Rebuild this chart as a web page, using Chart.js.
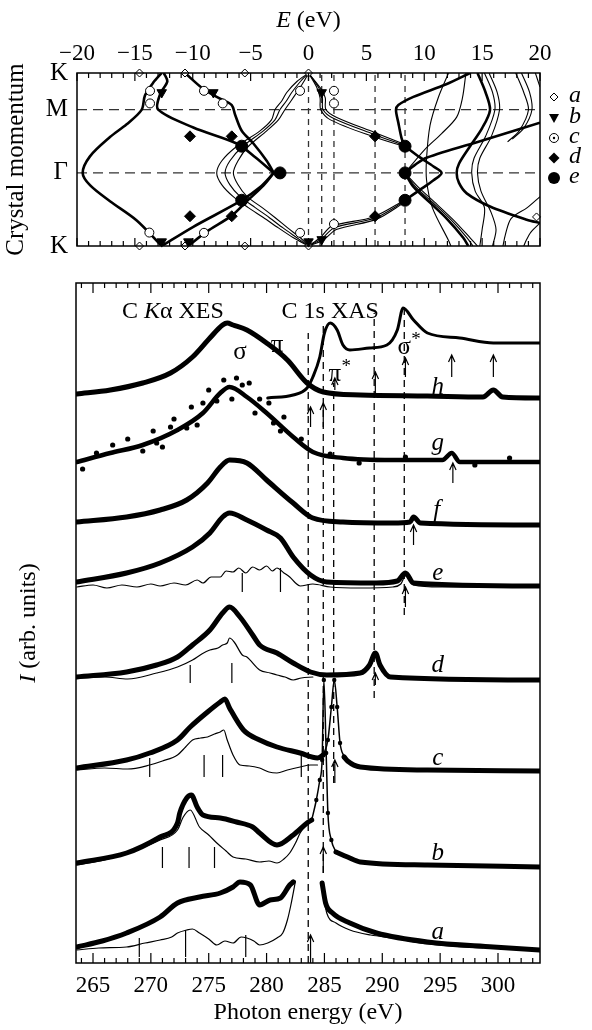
<!DOCTYPE html>
<html>
<head>
	<meta charset="UTF-8">
	<title>Band structure and C K-edge spectra</title>
	<script src="https://cdn.jsdelivr.net/npm/chart.js@4.4.0/dist/chart.umd.min.js"></script>
	<style>
		body { margin: 0; background: #fff; }
		#wrap { position: relative; width: 592px; height: 1030px; }
		canvas { position: absolute; left: 0; }
		#bandChart { top: 0; }
		#specChart { top: 270px; }
	</style>
</head>
<body>
<div id="wrap">
	<canvas id="bandChart" width="592" height="270"></canvas>
	<canvas id="specChart" width="592" height="760"></canvas>
</div>
<script>
// ---------- top panel: bands, E (eV) vs crystal momentum ----------
const energyTicks = [-20, -15, -10, -5, 0, 5, 10, 15, 20];
const kTicks = [0, 1.333, 2.488, 3.155];
const kLabels = ['K', '\u0393', 'M', 'K'];
const kDashed = [1.333, 2.488];
const eDashed = [0, 1.14, 2.2, 5.75, 8.34];

// thick bands
const bandS1 = [[-12.68,0],[-14.84,0.466],[-17.15,0.817],[-18.88,1.11],[-19.51,1.333],[-18.88,1.635],[-17.15,1.986],[-15.71,2.219],[-14.42,2.482],[-14.13,2.745],[-13.41,2.98],[-12.68,3.155]];
const bandS2 = [[-12.5,3.155],[-12.2,3.0],[-12.8,2.78],[-13.0,2.49],[-9.95,2.161],[-6.2,1.869],[-4.6,1.62],[-3.0,1.333]];
const bandS3 = [[-10.67,3.155],[-9.08,2.862],[-7.64,2.687],[-6.63,2.57],[-6.34,2.394],[-5.77,2.103],[-4.76,1.869],[-3.6,1.55],[-3.0,1.333]];
const bandS4 = [[-12.68,0],[-9.95,0.35],[-5.9,0.817],[-4.2,1.07],[-3.0,1.333]];
const bandS5 = [[-10.4,0],[-8.8,0.263],[-6.63,0.554],[-5.33,0.817],[-3.9,1.1],[-3.0,1.333]];
const bandKink = [[8.34,1.82],[9.6,1.62],[10.8,1.45],[11.5,1.333],[10.8,1.2],[9.6,1.02],[8.34,0.834]];
const bandR1 = [[13.95,3.155],[11.9,2.95],[9.06,2.72],[7.76,2.57],[7.56,2.48],[7.76,2.25],[8.05,1.96],[8.34,1.82]];
const bandR2 = [[8.34,1.333],[9.06,1.08],[10.5,0.79],[11.94,0.5],[13.37,0.15],[13.8,0]];
const bandR4 = [[8.34,1.333],[9.2,1.48],[10.2,1.61],[15.1,1.93],[20,2.25]];
const bandR6 = [[14.6,3.155],[15.3,2.8],[15.68,2.48],[15.0,2.15],[13.9,1.8],[13.0,1.5],[12.8,1.333],[13.0,1.15],[13.67,0.96],[15.68,0.72],[18.85,0.48],[20,0.42]];

// thin bands (pi bundle, pi* bundle, upper bands)
const piOuter = [[0,0],[-1.3,0.15],[-2.6,0.33],[-3.9,0.52],[-5.2,0.70],[-6.5,0.90],[-7.5,1.12],[-7.93,1.333],[-7.5,1.55],[-6.24,1.81],[-4.19,2.10],[-3.2,2.3],[-2.89,2.49],[-2.3,2.65],[-1.88,2.80],[-1.0,3.0],[0,3.155]];
const piMid = [[0,0],[-1.0,0.15],[-2.2,0.33],[-3.4,0.52],[-4.6,0.70],[-5.9,0.90],[-6.8,1.12],[-7.21,1.333],[-6.8,1.55],[-5.72,1.81],[-3.9,2.10],[-2.9,2.3],[-2.46,2.49],[-1.9,2.65],[-1.45,2.80],[-0.7,3.0],[0,3.155]];
const piInner = [[0,0],[-0.7,0.15],[-1.8,0.33],[-2.9,0.52],[-4.0,0.70],[-5.3,0.90],[-6.1,1.12],[-6.49,1.333],[-6.1,1.55],[-5.23,1.81],[-3.61,2.10],[-2.6,2.3],[-2.03,2.49],[-1.5,2.65],[-1.02,2.80],[-0.4,3.0],[0,3.155]];
const pstarA = [[0,3.155],[0.7,2.9],[1.0,2.7],[1.05,2.49],[1.9,2.30],[5.5,2.0],[8.34,1.81]];
const pstarB = [[0,3.155],[0.9,2.88],[1.2,2.7],[1.25,2.49],[2.14,2.33],[5.6,2.04],[8.34,1.83]];
const pstarC = [[0,3.155],[1.1,2.86],[1.45,2.7],[1.5,2.49],[2.4,2.35],[5.7,2.07],[8.34,1.85]];
const pstarD = [[0,0],[1.0,0.15],[2.0,0.36],[5.6,0.53],[8.34,0.84]];
const pstarE = [[0,0],[1.14,0.13],[2.2,0.33],[5.75,0.51],[8.34,0.82]];
const pstarF = [[0,0],[1.3,0.11],[2.4,0.30],[5.9,0.49],[8.34,0.80]];
const bandR3 = [[8.34,1.333],[9.3,1.07],[10.8,0.78],[12.3,0.48],[13.7,0.15],[14.2,0]];
const bandR3b = [[8.34,1.333],[9.6,1.05],[11.1,0.76],[12.6,0.46],[14.0,0.14],[14.6,0]];
const bandR5 = [[8.34,1.333],[10.0,1.75],[11.5,2.05],[12.8,2.35],[13.3,2.7],[13.6,3.155]];
const bandR7 = [[15.2,3.155],[15.9,2.8],[16.1,2.48],[15.3,2.0],[14.3,1.6],[14.1,1.333],[14.4,1.0],[15.2,0.7],[15.0,0.3],[14.8,0]];
const bandR8 = [[15.6,3.155],[16.3,2.8],[16.5,2.48],[15.8,2.0],[14.8,1.6],[14.6,1.333],[14.9,1.0],[15.8,0.6],[16.2,0.3],[15.9,0]];
const bandR9 = [[17.9,3.155],[18.6,2.8],[19.0,2.48],[18.2,2.1],[17.2,1.9]];
const bandR10 = [[18.4,3.155],[19.1,2.8],[19.3,2.48],[18.6,2.15],[17.6,1.95]];
const bandR11 = [[12.1,3.155],[11.2,2.7],[10.5,2.2],[10.2,1.6],[10.2,1.2],[10.7,0.7],[12.1,0.1],[12.3,0]];
const bandR12 = [[20,0.9],[18.9,0.7],[17.5,0.5],[17.0,0.2],[16.8,0]];
const bandR13 = [[20,0.42],[19.2,0.25],[18.8,0.1],[18.6,0]];
const bandR14 = [[19.6,3.155],[20,2.9]];

// marked points a..e
const markA = [[-14.6,0],[-10.67,0],[-5.5,0],[0,0],[-14.6,3.155],[-10.67,3.155],[-5.5,3.155],[0,3.155],[19.7,0.53]];
const markB = [[-12.68,2.80],[-8.22,2.80],[1.14,2.80],[-12.68,0.08],[-10.38,0.08],[0,0.08],[1.14,0.12]];
const markC = [[-13.69,2.83],[-13.69,2.60],[-9.03,2.83],[-7.41,2.60],[-0.73,2.83],[2.2,2.83],[2.2,2.60],[-13.75,0.245],[-9.03,0.24],[-0.73,0.24],[2.2,0.4]];
const markD = [[-10.24,2.0],[-6.63,2.0],[-10.24,0.543],[-6.63,0.543],[5.75,2.0],[5.75,0.543]];
const markE = [[-5.77,1.82],[-5.77,0.834],[-2.46,1.333],[8.34,1.82],[8.34,1.333],[8.34,0.834]];
const legendKeys = ['a', 'b', 'c', 'd', 'e'];

// ---------- bottom panel: spectra, photon energy (eV) vs I ----------
const photonTicks = [265, 270, 275, 280, 285, 290, 295, 300];

const hXes = [[263.6,56.9],[266.5,57.3],[269.3,58.0],[271.7,59.0],[273.6,60.6],[275.1,62.5],[276.2,63.8],[276.6,64.0],[277.1,63.8],[278.3,63.3],[280.0,62.0],[281.8,60.3],[283.5,58.0],[284.9,57.1],[288.1,56.8],[293.9,56.7],[298.7,56.6],[299.6,57.3],[300.4,56.6],[303.6,56.5]];
const hXas = [[280.1,56.5],[282.3,56.8],[283.5,57.5],[284.0,58.6],[284.6,60.6],[285.0,63.0],[285.5,64.0],[286.1,63.3],[286.6,61.8],[287.2,61.3],[288.9,61.5],[290.4,61.8],[291.3,63.3],[291.8,65.5],[292.7,64.3],[293.9,63.0],[296.7,62.5],[299.6,62.0],[303.6,62.0]];
const gXes = [[263.6,50.1],[266.5,51.0],[269.3,51.8],[272.3,53.3],[274.5,55.0],[276.0,57.0],[276.8,57.6],[278.3,56.6],[280.0,55.0],[282.3,52.6],[284.0,51.1],[286.6,50.5],[290.9,50.3],[295.2,50.3],[296.0,51.0],[296.7,50.1],[303.6,50.1]];
const gScatter = [[264.1,49.4],[265.3,51.0],[266.7,51.8],[268.0,52.4],[269.3,51.2],[270.2,53.2],[270.5,52.0],[271.0,51.6],[271.7,53.6],[272.0,54.4],[273.1,53.5],[273.5,55.6],[274.0,53.8],[274.5,56.0],[275.0,57.3],[275.7,56.2],[276.3,58.3],[277.0,56.4],[277.4,58.5],[277.9,57.8],[278.5,58.0],[279.0,55.0],[279.4,56.4],[280.2,56.0],[280.6,54.0],[281.2,53.2],[281.5,54.6],[283.0,52.4],[285.5,50.9],[288.0,50.0],[292.0,50.6],[298.0,49.8],[301.0,50.5]];
const fXes = [[263.6,44.1],[267.9,44.6],[270.8,45.3],[273.1,46.3],[274.9,48.0],[276.0,49.6],[276.8,50.3],[278.3,50.0],[280.0,48.3],[282.3,46.0],[284.0,44.5],[286.6,44.1],[290.9,44.0],[292.4,44.1],[292.7,44.6],[293.3,44.0],[303.6,43.8]];
const eXes = [[263.6,38.1],[267.9,39.0],[270.8,40.0],[273.6,41.6],[275.1,43.0],[276.2,44.6],[276.8,45.0],[278.3,44.3],[280.0,43.3],[281.2,42.5],[282.3,40.6],[283.8,38.8],[285.2,38.1],[289.5,38.0],[291.3,38.2],[292.0,39.0],[292.7,38.0],[303.6,37.7]];
const eRef = [[263.6,37.6],[265.0,37.8],[266.2,37.5],[267.5,37.8],[268.8,37.6],[270.0,37.9],[270.8,37.7],[272.0,38.0],[273.0,37.8],[274.0,38.3],[274.5,38.0],[275.2,38.6],[276.0,38.6],[276.5,39.2],[277.1,39.1],[277.6,39.5],[278.2,39.0],[278.8,39.6],[279.4,39.3],[280.0,39.7],[280.5,39.2],[280.9,39.5],[281.5,39.0],[282.0,38.6],[282.5,38.0],[282.9,37.7],[284.0,37.9],[285.5,37.6],[288.1,37.5],[290.9,37.6],[291.6,37.9],[292.0,38.7],[292.7,37.8],[295.0,37.6],[298.7,37.6]];
const dXes = [[263.6,28.6],[267.9,29.1],[270.5,29.8],[272.3,30.6],[273.6,31.8],[275.1,33.3],[276.2,35.0],[276.8,35.6],[277.7,34.6],[278.8,32.8],[279.4,31.8],[280.9,31.0],[282.3,30.0],[283.8,29.1],[285.2,28.8],[288.1,29.0],[288.9,29.8],[289.4,31.0],[289.8,29.8],[290.7,28.6],[303.6,28.3]];
const dRef = [[263.6,28.5],[266.0,28.6],[268.0,28.4],[270.5,29.0],[272.3,29.6],[273.6,30.3],[274.4,30.9],[275.1,31.3],[275.8,31.5],[276.2,31.8],[276.6,32.0],[276.8,32.5],[277.2,32.1],[277.9,30.8],[278.3,30.6],[279.4,29.3],[280.3,29.0],[280.9,28.8],[281.6,28.6],[282.3,28.3],[283.0,28.5],[284.0,28.6]];
const cXes = [[263.6,19.5],[267.9,20.3],[269.9,21.0],[272.3,22.3],[273.4,23.6],[274.9,25.1],[276.0,26.1],[276.4,26.4],[276.8,25.5],[278.0,23.3],[279.4,22.3],[280.9,21.6],[282.9,21.0],[284.4,20.5],[284.9,20.8]];
const cXas = [[284.9,20.8],[285.3,22.3],[285.6,25.6],[285.85,28.3],[286.1,25.6],[286.35,22.0],[286.7,20.6]];
const cXasTail = [[286.7,20.6],[287.0,20.2],[288.1,19.6],[293.9,19.3],[303.6,19.2]];
const cRef = [[263.6,19.3],[266.0,19.5],[268.0,19.4],[269.9,19.8],[271.0,20.2],[272.3,20.8],[273.0,21.6],[273.6,22.3],[274.3,22.5],[274.9,22.6],[275.5,22.9],[276.0,23.1],[276.3,23.3],[276.6,22.3],[277.1,20.8],[277.7,19.8],[278.5,19.7],[279.4,19.5],[280.2,19.1],[280.9,19.0],[281.8,19.3],[282.9,19.6],[283.8,19.8],[284.4,19.8]];
const bXes = [[263.6,10.0],[267.9,11.0],[270.8,12.6],[272.3,14.0],[272.5,15.0],[273.1,16.5],[273.5,16.8],[274.0,15.6],[274.5,14.8],[276.0,14.5],[277.4,14.1],[278.8,13.6],[279.4,13.0],[280.9,11.8],[282.3,12.8],[283.5,14.0],[283.9,14.3]];
const bXas = [[283.9,14.3],[284.3,16.3],[284.6,18.3],[284.8,20.3],[284.95,28.3],[285.15,21.0],[285.3,15.0],[285.6,12.3],[286.0,11.1]];
const bXasTail = [[286.0,11.1],[287.0,10.6],[288.1,10.1],[293.9,9.8],[303.6,9.6]];
const bRef = [[263.6,9.8],[266.0,10.3],[268.0,11.0],[270.8,12.3],[272.3,13.3],[272.8,14.6],[273.4,15.3],[274.2,13.6],[275.0,12.8],[275.7,12.0],[276.5,11.2],[277.1,10.6],[278.2,10.4],[279.4,10.1],[280.2,10.2],[280.9,10.0],[281.5,10.4],[282.0,11.0],[282.5,12.0],[282.9,13.0],[283.4,13.8],[283.8,14.3]];
const aXes = [[263.6,1.6],[265.8,2.2],[267.9,3.0],[270.8,4.6],[272.3,6.0],[274.2,6.6],[276.0,7.0],[277.1,7.6],[277.7,8.1],[278.6,7.8],[279.4,5.8],[280.3,6.3],[281.2,6.5],[282.0,7.8],[282.3,8.1]];
const aXas = [[284.8,8.0],[285.1,6.0],[285.7,5.0],[287.2,4.0],[289.5,3.0],[293.9,2.1],[299.6,1.6],[303.6,1.3]];
const aRef = [[263.6,1.3],[265.5,1.5],[267.9,1.6],[269.5,2.0],[270.8,2.3],[271.8,2.6],[272.3,3.0],[273.1,3.3],[273.6,3.4],[274.2,3.0],[275.0,2.4],[275.7,1.8],[276.4,2.2],[277.1,2.0],[277.8,2.6],[278.3,2.5],[278.9,2.2],[279.4,1.8],[280.1,2.0],[280.9,2.5],[281.4,3.0],[281.8,4.3],[282.1,5.8],[282.5,8.2]];
const aRefXas = [[284.8,7.6],[285.2,5.0],[286.0,4.0],[287.2,3.3],[289.0,2.8],[290.9,2.5],[294.0,1.9],[298.7,1.5]];

// vertical marks under calculated curves: [energy, bottom, top]
const refMarks = [[277.9,37.1,39.0],[281.2,37.1,39.5],[273.4,28.0,29.8],[277.0,28.0,30.0],[269.9,18.6,20.5],[274.6,18.6,20.8],[276.2,18.6,20.8],[283.0,18.6,21.0],[271.0,9.5,11.6],[273.3,9.5,11.6],[275.5,9.5,11.6],[269.0,0.6,2.5],[273.0,0.6,3.3],[278.2,0.6,2.8]];
// excitation arrows: [energy, tail, head]
const arrows = [[283.8,53.6,55.6],[284.9,53.6,56.0],[285.9,57.3,58.5],[289.4,57.0,59.1],[292.0,58.6,60.5],[296.0,58.6,60.8],[299.6,58.6,60.8],[296.1,48.0,50.0],[292.7,41.8,43.8],[292.0,35.6,37.6],[289.4,27.8,29.0],[285.9,18.0,20.3],[284.9,9.0,11.6],[283.8,0.0,2.8]];
// dashed guides: [energy, from, to]
const specDashed = [[283.6,0,63.0],[284.9,9.0,63.8],[285.8,18.0,58.0],[289.3,26.5,65.0],[291.9,34.8,65.6]];
const curveLabels = [['h',294.8,57.6],['g',294.8,52.0],['f',294.7,45.3],['e',294.8,39.0],['d',294.8,29.8],['c',294.8,20.5],['b',294.8,11.0],['a',294.8,3.1]];

const SERIF = '"Liberation Serif", "Times New Roman", serif';

function toXY(arr) {
	return arr.map(p => ({x: p[0], y: p[1]}));
}
function line(data, width, extra) {
	return Object.assign({
		data: toXY(data), showLine: true, fill: false,
		borderColor: '#000', backgroundColor: '#000', borderWidth: width,
		pointRadius: 0, order: 1
	}, extra || {});
}
function marks(data, extra) {
	return Object.assign({
		data: toXY(data), showLine: false, order: 0, clip: false,
		pointBorderColor: '#000', pointBorderWidth: 1, pointHoverRadius: 0
	}, extra);
}
function mixedText(ctx, parts, cx, cy, size) {
	let w = 0;
	parts.forEach(p => { ctx.font = (p[1] ? 'italic ' : '') + size + 'px ' + SERIF; w += ctx.measureText(p[0]).width; });
	let x = cx - w / 2;
	ctx.textAlign = 'left';
	ctx.textBaseline = 'middle';
	parts.forEach(p => {
		ctx.font = (p[1] ? 'italic ' : '') + size + 'px ' + SERIF;
		ctx.fillText(p[0], x, cy);
		x += ctx.measureText(p[0]).width;
	});
}
function starLabel(ctx, base, cx, cy) {
	ctx.font = '25px ' + SERIF;
	ctx.textAlign = 'center';
	ctx.textBaseline = 'middle';
	ctx.fillText(base, cx, cy);
	let w = ctx.measureText(base).width;
	ctx.font = '19px ' + SERIF;
	ctx.fillText('*', cx + w / 2 + 5, cy - 7);
}
function drawSymbol(ctx, key, x, y) {
	ctx.save();
	ctx.lineWidth = 1;
	ctx.strokeStyle = '#000';
	ctx.fillStyle = '#000';
	ctx.beginPath();
	if (key === 'a' || key === 'd') {
		let r = key === 'a' ? 4 : 5.5;
		ctx.moveTo(x, y - r); ctx.lineTo(x + r, y); ctx.lineTo(x, y + r); ctx.lineTo(x - r, y); ctx.closePath();
		if (key === 'a') { ctx.fillStyle = '#fff'; ctx.fill(); ctx.stroke(); } else ctx.fill();
	} else if (key === 'b') {
		ctx.moveTo(x - 5, y - 4); ctx.lineTo(x + 5, y - 4); ctx.lineTo(x, y + 5); ctx.closePath(); ctx.fill();
	} else if (key === 'c') {
		ctx.arc(x, y, 4.5, 0, Math.PI * 2); ctx.fillStyle = '#fff'; ctx.fill(); ctx.stroke();
		ctx.beginPath(); ctx.fillStyle = '#000'; ctx.arc(x, y, 1.2, 0, Math.PI * 2); ctx.fill();
	} else {
		ctx.arc(x, y, 6, 0, Math.PI * 2); ctx.fill();
	}
	ctx.restore();
}
function edgeTicks(ctx, chart, majors, minorStep, majorLen, minorLen) {
	const area = chart.chartArea, xs = chart.scales.x;
	ctx.save();
	ctx.strokeStyle = '#000';
	ctx.lineWidth = 1.2;
	for (let v = Math.ceil(xs.min); v <= xs.max; v += minorStep) {
		let px = xs.getPixelForValue(v);
		let len = majors.indexOf(v) >= 0 ? majorLen : minorLen;
		ctx.beginPath();
		ctx.moveTo(px, area.top); ctx.lineTo(px, area.top + len);
		ctx.moveTo(px, area.bottom); ctx.lineTo(px, area.bottom - len);
		ctx.stroke();
	}
	ctx.lineWidth = 1.5;
	ctx.strokeRect(area.left, area.top, area.right - area.left, area.bottom - area.top);
	ctx.restore();
}

// ---------- top chart ----------
const bandOverlay = {
	id: 'bandOverlay',
	afterDraw(chart) {
		const ctx = chart.ctx, xs = chart.scales.x;
		edgeTicks(ctx, chart, energyTicks, 1, 8, 5);
		ctx.save();
		ctx.fillStyle = '#000';
		mixedText(ctx, [['E', true], [' (eV)', false]], xs.getPixelForValue(0), 21, 24);
		const ly = [97, 118, 138, 158, 178];
		legendKeys.forEach((k, i) => {
			drawSymbol(ctx, k, 554, ly[i]);
			ctx.font = 'italic 24px ' + SERIF;
			ctx.textAlign = 'left';
			ctx.textBaseline = 'middle';
			ctx.fillText(k, 569, ly[i] - 1);
		});
		ctx.restore();
	}
};

const thick = 2.6, thin = 1.1;
const bandDatasets = [
	marks(markE, {pointStyle: 'circle', pointRadius: 6, pointBackgroundColor: '#000'}),
	marks(markD, {pointStyle: 'rectRot', pointRadius: 5.5, pointBackgroundColor: '#000'}),
	marks(markC, {pointStyle: 'circle', pointRadius: 4.5, pointBackgroundColor: '#fff'}),
	marks(markC, {pointStyle: 'circle', pointRadius: 1.2, pointBackgroundColor: '#000', pointBorderWidth: 0}),
	marks(markB, {pointStyle: 'triangle', pointRotation: 180, pointRadius: 5.5, pointBackgroundColor: '#000'}),
	marks(markA, {pointStyle: 'rectRot', pointRadius: 4, pointBackgroundColor: '#fff'})
];
[bandS1, bandS2, bandS3, bandS4, bandS5, bandKink, bandR1, bandR2, bandR4, bandR6].forEach(b => bandDatasets.push(line(b, thick, {tension: 0.3})));
[piOuter, piMid, piInner, pstarA, pstarB, pstarC, pstarD, pstarE, pstarF, bandR3, bandR3b, bandR5, bandR7, bandR8, bandR9, bandR10, bandR11, bandR12, bandR13, bandR14]
	.forEach(b => bandDatasets.push(line(b, thin, {tension: 0.3})));
kDashed.forEach(k => bandDatasets.push(line([[-20, k], [20, k]], 1.3, {borderDash: [10, 6], order: 2, borderColor: '#333'})));
eDashed.forEach(e => bandDatasets.push(line([[e, 0], [e, 3.155]], 1.3, {borderDash: [6, 5], order: 2, borderColor: '#333'})));

new Chart(document.getElementById('bandChart'), {
	type: 'scatter',
	data: {datasets: bandDatasets},
	options: {
		responsive: false,
		animation: false,
		layout: {padding: {left: 0, right: 52, top: 0, bottom: 17}},
		plugins: {legend: {display: false}, tooltip: {enabled: false}},
		scales: {
			x: {
				type: 'linear', position: 'top', min: -20, max: 20,
				grid: {display: false, drawTicks: false}, border: {display: false},
				afterBuildTicks: s => { s.ticks = energyTicks.map(v => ({value: v})); },
				afterFit: s => { s.height = 73; },
				ticks: {
					color: '#000', padding: 5, maxRotation: 0, autoSkip: false,
					font: {family: SERIF, size: 23},
					callback: v => v < 0 ? '\u2212' + Math.abs(v) : String(v)
				}
			},
			y: {
				type: 'linear', min: 0, max: 3.155,
				grid: {display: false, drawTicks: false}, border: {display: false},
				afterBuildTicks: s => { s.ticks = kTicks.map(v => ({value: v})); },
				afterFit: s => { s.width = 77; },
				ticks: {
					color: '#000', padding: 9, autoSkip: false,
					font: {family: SERIF, size: 25},
					callback: v => kLabels[kTicks.indexOf(v)]
				},
				title: {
					display: true, text: 'Crystal momentum', color: '#000',
					font: {family: SERIF, size: 25}, padding: {top: 1, bottom: 0}
				}
			}
		}
	},
	plugins: [bandOverlay]
});

// ---------- bottom chart ----------
const specOverlay = {
	id: 'specOverlay',
	afterDraw(chart) {
		const ctx = chart.ctx, xs = chart.scales.x, ys = chart.scales.y, area = chart.chartArea;
		edgeTicks(ctx, chart, photonTicks, 1, 10, 5);
		ctx.save();
		ctx.strokeStyle = '#000';
		ctx.fillStyle = '#000';
		ctx.lineWidth = 1.2;
		refMarks.forEach(m => {
			let px = xs.getPixelForValue(m[0]);
			ctx.beginPath();
			ctx.moveTo(px, ys.getPixelForValue(m[1]));
			ctx.lineTo(px, ys.getPixelForValue(m[2]));
			ctx.stroke();
		});
		arrows.forEach(a => {
			let px = xs.getPixelForValue(a[0]);
			let yt = ys.getPixelForValue(a[1]), yh = ys.getPixelForValue(a[2]);
			ctx.beginPath();
			ctx.moveTo(px, yt); ctx.lineTo(px, yh);
			ctx.moveTo(px - 3.2, yh + 7); ctx.lineTo(px, yh); ctx.lineTo(px + 3.2, yh + 7);
			ctx.stroke();
		});
		curveLabels.forEach(l => {
			ctx.font = 'italic 25px ' + SERIF;
			ctx.textAlign = 'center';
			ctx.textBaseline = 'middle';
			ctx.fillText(l[0], xs.getPixelForValue(l[1]), ys.getPixelForValue(l[2]));
		});
		mixedText(ctx, [['C ', false], ['K', true], ['\u03b1 XES', false]], xs.getPixelForValue(271.9), ys.getPixelForValue(65.1), 24);
		mixedText(ctx, [['C 1s XAS', false]], xs.getPixelForValue(285.5), ys.getPixelForValue(65.1), 24);
		ctx.font = '25px ' + SERIF;
		ctx.textAlign = 'center';
		ctx.fillText('\u03c3', xs.getPixelForValue(277.7), ys.getPixelForValue(61.1));
		ctx.fillText('\u03c0', xs.getPixelForValue(280.9), ys.getPixelForValue(61.8));
		starLabel(ctx, '\u03c0', xs.getPixelForValue(285.9), ys.getPixelForValue(58.9));
		starLabel(ctx, '\u03c3', xs.getPixelForValue(291.9), ys.getPixelForValue(61.6));
		ctx.translate(area.left - 47, (area.top + area.bottom) / 2);
		ctx.rotate(-Math.PI / 2);
		mixedText(ctx, [['I', true], [' (arb. units)', false]], 0, 0, 24);
		ctx.restore();
	}
};

const heavy = {cubicInterpolationMode: 'monotone', borderCapStyle: 'round', borderJoinStyle: 'round'};
const beaded = {cubicInterpolationMode: 'monotone', pointRadius: 2.2, pointBorderWidth: 0};
const specDatasets = [
	line(hXes, 5, heavy),
	line(hXas, 3, heavy),
	line(gXes, 4.5, heavy),
	marks(gScatter, {pointStyle: 'circle', pointRadius: 2.6, pointBackgroundColor: '#000', pointBorderWidth: 0, clip: true}),
	line(fXes, 5, heavy),
	line(eXes, 5, heavy),
	line(eRef, 1.2, heavy),
	line(dXes, 5, heavy),
	line(dRef, 1.2, heavy),
	line(cXes, 5, heavy),
	line(cXas, 1.5, beaded),
	line(cXasTail, 5, heavy),
	line(cRef, 1.2, heavy),
	line(bXes, 5, heavy),
	line(bXas, 1.5, beaded),
	line(bXasTail, 5, heavy),
	line(bRef, 1.2, heavy),
	line(aXes, 5, heavy),
	line(aXas, 5, heavy),
	line(aRef, 1.2, heavy),
	line(aRefXas, 1.2, heavy)
];
specDashed.forEach(d => specDatasets.push(line([[d[0], d[1]], [d[0], d[2]]], 1.3, {borderDash: [7, 5], order: 2})));

new Chart(document.getElementById('specChart'), {
	type: 'scatter',
	data: {datasets: specDatasets},
	options: {
		responsive: false,
		animation: false,
		layout: {padding: {left: 76, right: 52, top: 13, bottom: 0}},
		plugins: {legend: {display: false}, tooltip: {enabled: false}},
		scales: {
			x: {
				type: 'linear', position: 'bottom', min: 263.53, max: 303.63,
				grid: {display: false, drawTicks: false}, border: {display: false},
				afterBuildTicks: s => { s.ticks = photonTicks.map(v => ({value: v})); },
				afterFit: s => { s.height = 67; },
				ticks: {color: '#000', padding: 9, maxRotation: 0, autoSkip: false, font: {family: SERIF, size: 23}},
				title: {
					display: true, text: 'Photon energy (eV)', color: '#000',
					font: {family: SERIF, size: 24}, padding: {top: 0, bottom: 3}
				}
			},
			y: {type: 'linear', min: 0, max: 68, display: false}
		}
	},
	plugins: [specOverlay]
});
</script>
</body>
</html>
